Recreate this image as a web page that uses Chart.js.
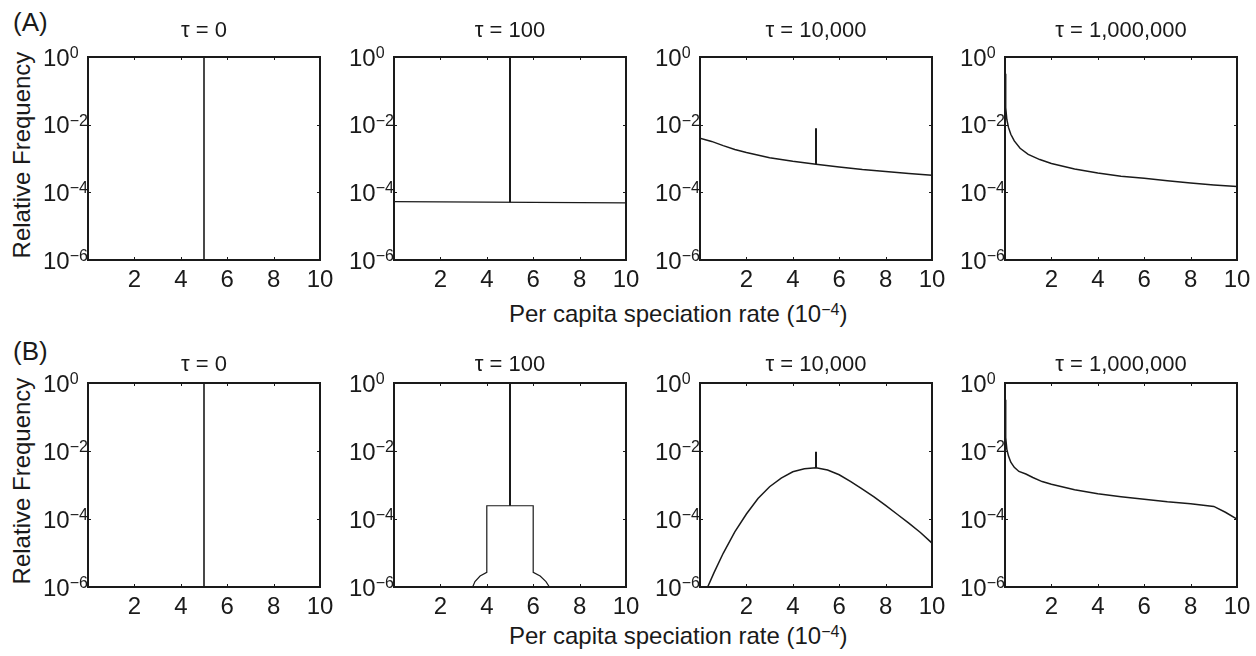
<!DOCTYPE html>
<html>
<head>
<meta charset="utf-8">
<script src="https://cdn.jsdelivr.net/npm/chart.js@4.4.1/dist/chart.umd.min.js"></script>
<style>
  body { margin: 0; background: #fff; }
  #fig { position: relative; width: 1256px; height: 656px; overflow: hidden; font-family: "Liberation Sans", Arial, sans-serif; color: #1a1a1a; }
  canvas { position: absolute; }
  .txt { position: absolute; white-space: nowrap; font-size: 24px; line-height: 24px; }
  .sup { position: relative; top: -7.5px; font-size: 16px; }
  .ylab { width: 260px; height: 24px; text-align: center; transform: rotate(-90deg); }
</style>
</head>
<body>
<div id="fig">
  <div class="txt" style="left:13px; top:9px; font-size:26px; line-height:26px;">(A)</div>
  <div class="txt" style="left:13px; top:338px; font-size:26px; line-height:26px;">(B)</div>
  <div class="txt ylab" style="left:-108px; top:143px;">Relative Frequency</div>
  <div class="txt ylab" style="left:-108px; top:469px;">Relative Frequency</div>
  <div class="txt" style="left:509px; top:302px;">Per capita speciation rate (10<span class="sup">−4</span>)</div>
  <div class="txt" style="left:509px; top:624px;">Per capita speciation rate (10<span class="sup">−4</span>)</div>
</div>
<script>
// --- Data ---
const panelTitles = ['τ = 0', 'τ = 100', 'τ = 10,000', 'τ = 1,000,000'];
const xTicks = [2, 4, 6, 8, 10];
const yTickExps = [0, -2, -4, -6];
const spikeX = [5, 5];

// Row A
const a1SpikeY = [1e-6, 1];
const a2FlatX = [0, 10];
const a2FlatY = [5.3e-5, 4.9e-5];
const a2SpikeY = [5.1e-5, 1];
const a3CurveX = [0, 0.5, 1, 1.5, 2, 3, 4, 5, 6, 7, 8, 9, 10];
const a3CurveY = [4.0e-3, 3.2e-3, 2.4e-3, 1.85e-3, 1.5e-3, 1.05e-3, 8.3e-4, 6.8e-4, 5.6e-4, 4.7e-4, 4.1e-4, 3.6e-4, 3.2e-4];
const a3SpikeY = [6.8e-4, 7.8e-3];
const a4CurveX = [0, 0.03, 0.08, 0.15, 0.25, 0.4, 0.65, 1, 1.5, 2, 3, 4, 5, 6, 7, 8, 9, 10];
const a4CurveY = [0.32, 3.2e-2, 1.4e-2, 8.3e-3, 5.2e-3, 3.3e-3, 2.0e-3, 1.32e-3, 9.3e-4, 7.1e-4, 4.9e-4, 3.7e-4, 3.0e-4, 2.6e-4, 2.2e-4, 1.9e-4, 1.66e-4, 1.48e-4];

// Row B
const b1SpikeY = [1e-6, 1];
const b2StepX = [3.39, 3.49, 3.71, 4, 4, 5, 6, 6, 6.3, 6.55, 6.70];
const b2StepY = [1e-6, 1.44e-6, 2.1e-6, 2.7e-6, 2.45e-4, 2.45e-4, 2.45e-4, 2.7e-6, 2.1e-6, 1.44e-6, 1e-6];
const b2SpikeY = [2.45e-4, 1];
const b3CurveX = [0.33, 0.6, 1, 1.5, 2, 2.5, 3, 3.5, 4, 4.5, 5, 5.5, 6, 6.5, 7, 7.5, 8, 8.5, 9, 9.5, 10];
const b3CurveY = [1e-6, 2.6e-6, 9.8e-6, 4.2e-5, 1.4e-4, 4.0e-4, 8.9e-4, 1.6e-3, 2.45e-3, 3.0e-3, 3.2e-3, 2.75e-3, 2.0e-3, 1.26e-3, 7.6e-4, 4.5e-4, 2.5e-4, 1.38e-4, 7.6e-5, 4.0e-5, 1.95e-5];
const b3SpikeY = [3.2e-3, 9.5e-3];
const b4CurveX = [0, 0.03, 0.08, 0.15, 0.25, 0.4, 0.6, 0.9, 1.2, 1.6, 2, 3, 4, 5, 6, 7, 8, 9, 9.5, 10];
const b4CurveY = [0.32, 2.5e-2, 1.12e-2, 7.1e-3, 4.7e-3, 3.3e-3, 2.5e-3, 2.1e-3, 1.66e-3, 1.26e-3, 1.05e-3, 7.2e-4, 5.5e-4, 4.5e-4, 3.8e-4, 3.2e-4, 2.8e-4, 2.35e-4, 1.58e-4, 1.0e-4];

// --- Layout ---
const panelLefts = [88, 394, 700, 1005];
const panelWidth = 232;
const rowTops = [57, 383];
const rowHeights = [203, 204];
const titleGap = [20, 11.6];
const pad = { left: 60, top: 50, right: 30, bottom: 40 };
const ink = '#1a1a1a';
const fontName = '"Liberation Sans", Arial, sans-serif';

function pts(xs, ys) {
    return xs.map((x, i) => ({ x: x, y: ys[i] }));
}

function line(xs, ys, w) {
    return { data: pts(xs, ys), borderColor: ink, borderWidth: w || 1.5, pointRadius: 0, tension: 0, fill: false };
}

const panels = [
    [[line(spikeX, a1SpikeY, 1.6)],
     [line(a2FlatX, a2FlatY, 1.3), line(spikeX, a2SpikeY, 2)],
     [line(a3CurveX, a3CurveY), line(spikeX, a3SpikeY, 2)],
     [line(a4CurveX, a4CurveY)]],
    [[line(spikeX, b1SpikeY, 1.6)],
     [line(b2StepX, b2StepY, 1.2), line(spikeX, b2SpikeY, 2)],
     [line(b3CurveX, b3CurveY), line(spikeX, b3SpikeY, 2)],
     [line(b4CurveX, b4CurveY)]]
];

// Box, inward ticks, tick labels and title drawn from the scales
const axesPlugin = {
    id: 'matlabAxes',
    afterDraw(chart, args, opts) {
        const ctx = chart.ctx;
        const a = chart.chartArea;
        const xs = chart.scales.x, ys = chart.scales.y;
        ctx.save();
        ctx.strokeStyle = ink;
        ctx.fillStyle = ink;

        // ticks
        ctx.lineWidth = 1;
        ctx.beginPath();
        xTicks.forEach(v => {
            const px = Math.round(xs.getPixelForValue(v)) + 0.5;
            ctx.moveTo(px, a.bottom); ctx.lineTo(px, a.bottom - 3);
            ctx.moveTo(px, a.top); ctx.lineTo(px, a.top + 3);
        });
        yTickExps.forEach(e => {
            const py = Math.round(ys.getPixelForValue(Math.pow(10, e))) + 0.5;
            ctx.moveTo(a.left, py); ctx.lineTo(a.left + 3, py);
            ctx.moveTo(a.right, py); ctx.lineTo(a.right - 3, py);
        });
        ctx.stroke();

        // frame
        ctx.lineWidth = 2;
        ctx.strokeRect(a.left, a.top, a.right - a.left, a.bottom - a.top);

        // x tick labels
        ctx.font = '24px ' + fontName;
        ctx.textAlign = 'center';
        ctx.textBaseline = 'alphabetic';
        xTicks.forEach(v => {
            ctx.fillText(String(v), xs.getPixelForValue(v), a.bottom + 26.5);
        });

        // y tick labels 10^e
        ctx.textAlign = 'left';
        yTickExps.forEach(e => {
            const py = ys.getPixelForValue(Math.pow(10, e));
            const x0 = a.left - 45;
            ctx.font = '24px ' + fontName;
            ctx.fillText('10', x0, py + 8.6);
            const w = ctx.measureText('10').width;
            ctx.font = '16px ' + fontName;
            ctx.fillText(e === 0 ? '0' : '\u2212' + Math.abs(e), x0 + w, py + 1.1);
        });

        // title
        ctx.font = '22px ' + fontName;
        ctx.textAlign = 'center';
        ctx.fillText(opts.title, (a.left + a.right) / 2, a.top - opts.gap);
        ctx.restore();
    }
};

const fig = document.getElementById('fig');
panels.forEach((row, r) => {
    row.forEach((datasets, c) => {
        const canvas = document.createElement('canvas');
        const w = panelWidth + pad.left + pad.right;
        const h = rowHeights[r] + pad.top + pad.bottom;
        canvas.width = w;
        canvas.height = h;
        canvas.style.left = (panelLefts[c] - pad.left) + 'px';
        canvas.style.top = (rowTops[r] - pad.top) + 'px';
        canvas.style.width = w + 'px';
        canvas.style.height = h + 'px';
        fig.appendChild(canvas);

        new Chart(canvas, {
            type: 'line',
            data: { datasets: datasets },
            plugins: [axesPlugin],
            options: {
                responsive: false,
                animation: false,
                devicePixelRatio: 1,
                layout: { padding: pad },
                scales: {
                    x: { type: 'linear', min: 0, max: 10, display: false },
                    y: { type: 'logarithmic', min: 1e-6, max: 1, display: false }
                },
                plugins: {
                    legend: { display: false },
                    tooltip: { enabled: false },
                    matlabAxes: { title: panelTitles[c], gap: titleGap[r] }
                }
            }
        });
    });
});
</script>
</body>
</html>
